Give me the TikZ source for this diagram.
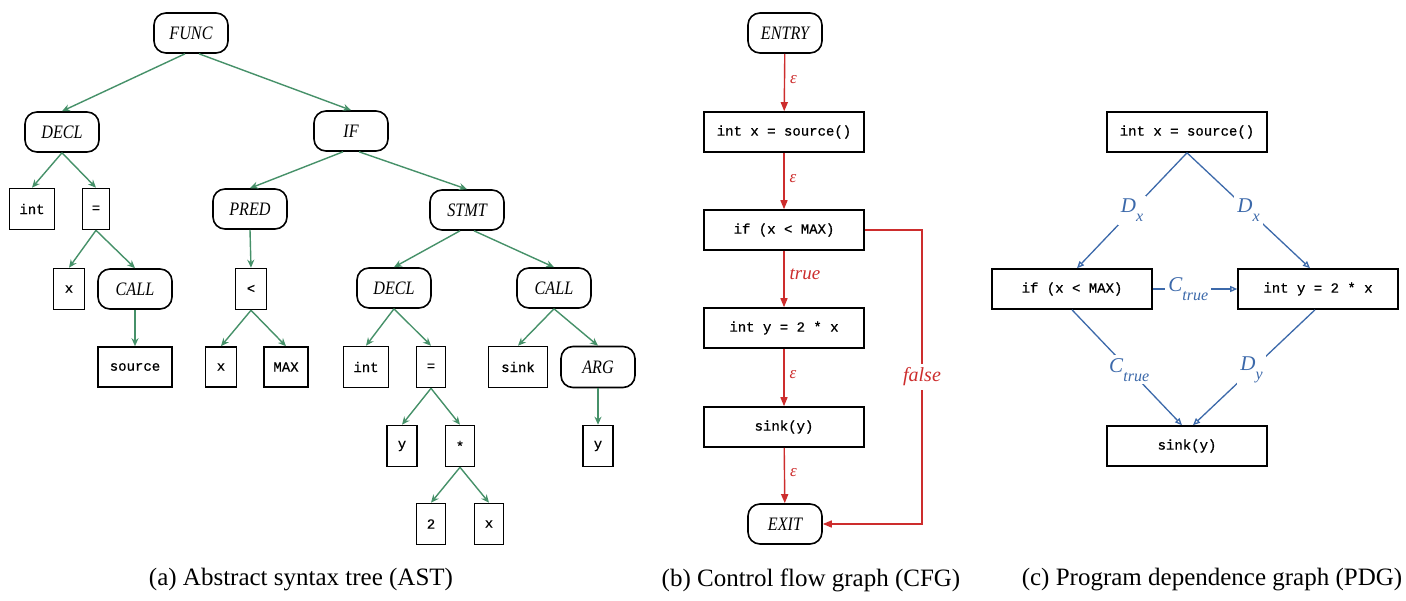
\documentclass[tikz,border=0pt]{standalone}
\usepackage{fontspec}
\setmainfont{Liberation Serif}
\setmonofont{Liberation Mono}[FakeBold=0.6]
\newfontfamily\labf{Liberation Serif}[FakeStretch=0.85]
\usetikzlibrary{arrows.meta}
\definecolor{astgreen}{RGB}{70,145,105}
\definecolor{cfgred}{RGB}{205,45,45}
\definecolor{pdgblue}{RGB}{60,105,170}
\newcommand{\pdglab}[2]{\textit{#1}\raisebox{-0.42em}{\fontsize{16}{16}\selectfont\textit{#2}}}
\tikzset{
  rnode/.style={draw, line width=1.6pt, rounded corners=12pt, minimum width=74pt, minimum height=40pt, inner sep=0pt, font=\labf\itshape\fontsize{19}{21}\selectfont},
  bnode/.style={draw, line width=1.6pt, minimum height=41pt, inner sep=0pt, font=\ttfamily\fontsize{14}{16}\selectfont},
  cbox/.style={draw, line width=1.6pt, minimum width=160pt, minimum height=40pt, inner sep=0pt, font=\ttfamily\fontsize{14}{16}\selectfont},
  astedge/.style={draw=astgreen, line width=1.4pt, -{Stealth[length=8pt,width=7pt]}},
  cfgedge/.style={draw=cfgred, line width=1.4pt, -{Triangle[length=9pt,width=7pt]}},
  pdgedge/.style={draw=pdgblue, line width=1.3pt, -{Triangle[open,length=7pt,width=6pt]}},
  elab/.style={text=cfgred, font=\itshape\fontsize{17}{19}\selectfont, inner sep=2pt},
  plab/.style={text=pdgblue, fill=white, font=\fontsize{21}{23}\selectfont, inner sep=3pt},
  caption/.style={font=\fontsize{25}{28}\selectfont}
}
\begin{document}
\begin{tikzpicture}[x=1pt,y=-1pt]
\useasboundingbox[fill=white] (0,0) rectangle (1406,600);
% ---------------- AST ----------------
\node[rnode] (func) at (191,33) {FUNC};
\node[rnode] (decl1) at (62,132) {DECL};
\node[rnode] (if) at (351,131) {IF};
\node[bnode, minimum width=45pt] (int1) at (32,209) {int};
\node[bnode, minimum width=27pt] (eq1) at (96,209) {=};
\node[rnode] (pred) at (250,209) {PRED};
\node[rnode] (stmt) at (467,210) {STMT};
\node[bnode, minimum width=31pt] (x1) at (69,289) {x};
\node[rnode] (call1) at (135,289) {CALL};
\node[bnode, minimum width=31pt] (lt) at (251,289) {<};
\node[bnode, minimum width=74pt, minimum height=40pt] (source) at (135,367) {source};
\node[bnode, minimum width=31pt, minimum height=40pt] (x2) at (221,367) {x};
\node[bnode, minimum width=44pt, minimum height=40pt] (max) at (286,367) {MAX};
\node[rnode] (decl2) at (394,288) {DECL};
\node[rnode] (call2) at (554,288) {CALL};
\node[bnode, minimum width=45pt] (int2) at (366,367) {int};
\node[bnode, minimum width=29pt] (eq2) at (431,367) {=};
\node[bnode, minimum width=59pt] (sink) at (518,367) {sink};
\node[rnode, minimum height=41pt] (arg) at (598,367) {ARG};
\node[bnode, minimum width=30pt] (y1) at (402,446) {y};
\node[bnode, minimum width=29pt] (star) at (460,446) {*};
\node[bnode, minimum width=30pt] (y2) at (598,446) {y};
\node[bnode, minimum width=29pt] (two) at (431,524) {2};
\node[bnode, minimum width=29pt] (x3) at (489,524) {x};
\draw[astedge] ([xshift=-6pt]func.south) -- (decl1.north);
\draw[astedge] ([xshift=8pt]func.south) -- (if.north);
\draw[astedge] (decl1.south) -- (int1.north);
\draw[astedge] (decl1.south) -- (eq1.north);
\draw[astedge] (eq1.south) -- (x1.north);
\draw[astedge] (eq1.south) -- (call1.north);
\draw[astedge] (call1.south) -- (source.north);
\draw[astedge] ([xshift=-8pt]if.south) -- (pred.north);
\draw[astedge] ([xshift=8pt]if.south) -- (stmt.north);
\draw[astedge] (pred.south) -- (lt.north);
\draw[astedge] (lt.south) -- (x2.north);
\draw[astedge] (lt.south) -- (max.north);
\draw[astedge] ([xshift=-7pt]stmt.south) -- (decl2.north);
\draw[astedge] ([xshift=7pt]stmt.south) -- (call2.north);
\draw[astedge] (decl2.south) -- (int2.north);
\draw[astedge] (decl2.south) -- (eq2.north);
\draw[astedge] (eq2.south) -- (y1.north);
\draw[astedge] (eq2.south) -- (star.north);
\draw[astedge] (star.south) -- (two.north);
\draw[astedge] (star.south) -- (x3.north);
\draw[astedge] (call2.south) -- (sink.north);
\draw[astedge] (call2.south) -- (arg.north);
\draw[astedge] (arg.south) -- (y2.north);
% ---------------- CFG ----------------
\node[rnode] (entry) at (785,33) {ENTRY};
\node[cbox] (c1) at (784,132) {int x = source()};
\node[cbox] (c2) at (784,230) {if (x < MAX)};
\node[cbox] (c3) at (784,328) {int y = 2 * x};
\node[cbox] (c4) at (784,427) {sink(y)};
\node[rnode] (exit) at (785,524) {EXIT};
\coordinate (fc) at (922,230);
\coordinate (fd) at (fc |- exit);
\draw[cfgedge] (entry) -- node[elab, right=3pt, pos=0.45] {ε} (c1);
\draw[cfgedge] (c1) -- node[elab, right=3pt, pos=0.45] {ε} (c2);
\draw[cfgedge] (c2) -- node[elab, right=3pt, pos=0.42, font=\itshape\fontsize{19}{21}\selectfont] {true} (c3);
\draw[cfgedge] (c3) -- node[elab, right=3pt, pos=0.45] {ε} (c4);
\draw[cfgedge] (c4) -- node[elab, right=3pt, pos=0.45] {ε} (exit);
\draw[cfgedge] (c2) -- (fc) -- node[elab, fill=white, inner sep=4pt, font=\itshape\fontsize{20}{22}\selectfont] {false} (fd) -- (exit);
% ---------------- PDG ----------------
\node[cbox] (p1) at (1187,132) {int x = source()};
\node[cbox] (p2) at (1072,289) {if (x < MAX)};
\node[cbox] (p3) at (1318,289) {int y = 2 * x};
\node[cbox] (p4) at (1187,446) {sink(y)};
\draw[pdgedge] (p1.south) -- node[plab] {\pdglab{D}{x}} ([xshift=5pt]p2.north);
\draw[pdgedge] (p1.south) -- node[plab] {\pdglab{D}{x}} ([xshift=-8pt]p3.north);
\draw[pdgedge] (p2.east) -- node[plab, pos=0.42] {\pdglab{C}{true}} (p3.west);
\draw[pdgedge] (p2.south) -- node[plab, pos=0.52] {\pdglab{C}{true}} ([xshift=-5pt]p4.north);
\draw[pdgedge] ([xshift=-3pt]p3.south) -- node[plab, pos=0.52] {\pdglab{D}{y}} ([xshift=6pt]p4.north);
% ---------------- captions ----------------
\node[caption] (capa) at (301,580) {(a) Abstract syntax tree (AST)};
\node[caption] (capb) at (811,580) {(b) Control flow graph (CFG)};
\node[caption] (capc) at (1212,580) {(c) Program dependence graph (PDG)};
\end{tikzpicture}
\end{document}
